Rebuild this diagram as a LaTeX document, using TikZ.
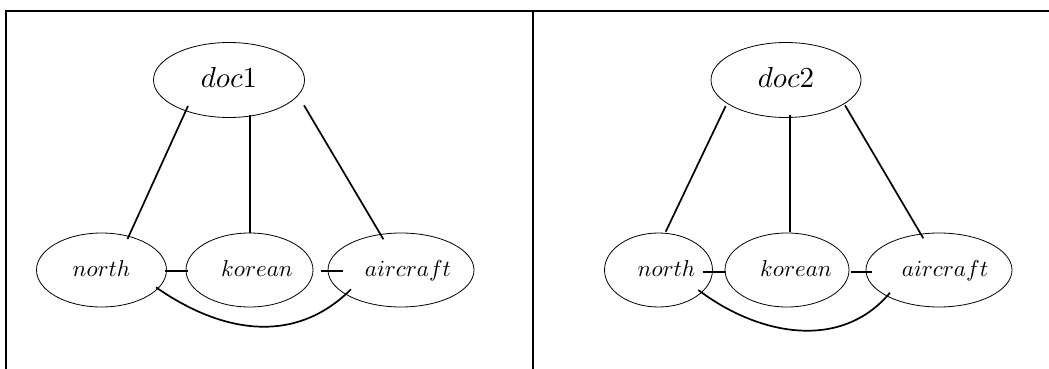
\documentclass[tikz,border=0pt]{standalone}
\usepackage{graphicx}
\usetikzlibrary{shapes.geometric,calc}
\newcommand\termtext[3]{\makebox[0pt]{\kern#1\relax\scalebox{#2}{$#3$}}}
\begin{document}
\begin{tikzpicture}[x=1pt,y=-1pt,
  frameline/.style={line width=2pt},
  term/.style={ellipse, draw, line width=0.8pt, inner sep=0pt, minimum height=74pt,
    text height=13.5pt, text depth=0pt},
  docnode/.style={term, minimum height=75pt, text height=16pt},
  edge/.style={line width=1.7pt}
]
\useasboundingbox (0,0) rectangle (1049,369);
% frame
\draw[frameline] (6,369) -- (6,11) -- (1049,11);
\draw[frameline] (533,11) -- (533,369);
% left panel
\node[docnode, minimum width=151pt] (doc1) at (229,80) {\termtext{0pt}{2.9}{doc1}};
\node[term, minimum width=130pt] (north1) at (101.5,270) {\termtext{0pt}{2.3}{north}};
\node[term, minimum width=127pt] (korean1) at (249.5,270) {\termtext{15pt}{2.3}{korean}};
\node[term, minimum width=146pt] (aircraft1) at (401,270) {\termtext{14pt}{2.3}{aircraft}};
\draw[edge] ($(doc1)+(-41,26)$) -- ($(north1)+(26,-31)$);
\draw[edge] ($(doc1)+(21.3,35)$) -- ($(korean1)+(0.8,-37)$);
\draw[edge] ($(doc1)+(75,25.3)$) -- ($(aircraft1)+(-17.6,-30.7)$);
\draw[edge] ($(north1)+(63.5,1)$) -- ($(korean1)+(-61.5,1)$);
\draw[edge] ($(korean1)+(71.2,1)$) -- ($(aircraft1)+(-58,1)$);
\draw[edge] ($(north1)+(54.5,17.3)$) .. controls ($(north1)+(120,63)$) and ($(aircraft1)+(-106.6,75.6)$) .. ($(aircraft1)+(-50,19.3)$);
% right panel
\node[docnode, minimum width=150pt] (doc2) at (786,80) {\termtext{0pt}{2.9}{doc2}};
\node[term, minimum width=108pt] (north2) at (658.5,270) {\termtext{16pt}{2.3}{north}};
\node[term, minimum width=124pt] (korean2) at (787,270) {\termtext{18pt}{2.3}{korean}};
\node[term, minimum width=146pt] (aircraft2) at (939,270) {\termtext{12pt}{2.3}{aircraft}};
\draw[edge] ($(doc2)+(-60.3,26)$) -- ($(north2)+(7.2,-38.3)$);
\draw[edge] ($(doc2)+(4.3,35)$) -- ($(korean2)+(3.3,-38.3)$);
\draw[edge] ($(doc2)+(59,25.3)$) -- ($(aircraft2)+(-15.7,-31.7)$);
\draw[edge] ($(north2)+(44.2,1.7)$) -- ($(korean2)+(-61.3,1.7)$);
\draw[edge] ($(korean2)+(64,1.7)$) -- ($(aircraft2)+(-66.7,1.7)$);
\draw[edge] ($(north2)+(39.8,20)$) .. controls ($(north2)+(100.2,65.7)$) and ($(aircraft2)+(-97.9,81.2)$) .. ($(aircraft2)+(-49,22.7)$);
\end{tikzpicture}
\end{document}
